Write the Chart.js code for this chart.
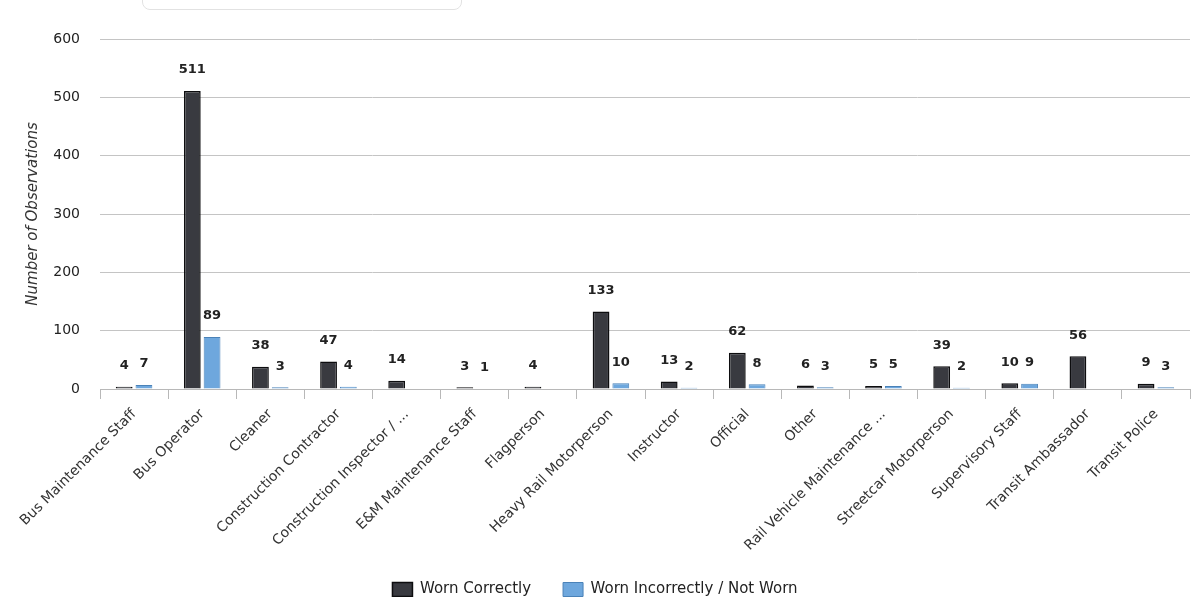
<!DOCTYPE html>
<html>
<head>
<meta charset="utf-8">
<script src="https://cdn.jsdelivr.net/npm/chart.js@4/dist/chart.umd.min.js"></script>
<style>
  html, body { margin: 0; padding: 0; background: #fff; overflow: hidden; }
  /* a little taller than the window so the legend's lower padding falls outside */
  #wrap { position: relative; width: 1202px; height: 607px; }
  #tab { position: absolute; left: 142px; top: -10px; width: 318px; height: 18px;
         border: 1px solid #e2e2e2; border-radius: 0 0 8px 8px; }
</style>
</head>
<body>
<div id="wrap">
  <div id="tab"></div>
  <canvas id="roleChart"></canvas>
</div>
<script>
const categories = [
  'Bus Maintenance Staff', 'Bus Operator', 'Cleaner', 'Construction Contractor',
  'Construction Inspector / ...', 'E&M Maintenance Staff', 'Flagperson',
  'Heavy Rail Motorperson', 'Instructor', 'Official', 'Other',
  'Rail Vehicle Maintenance ...', 'Streetcar Motorperson', 'Supervisory Staff',
  'Transit Ambassador', 'Transit Police'
];
const wornCorrectly = [4, 511, 38, 47, 14, 3, 4, 133, 13, 62, 6, 5, 39, 10, 56, 9];
const wornIncorrectly = [7, 89, 3, 4, null, 1, null, 10, 2, 8, 3, 5, 2, 9, null, 3];
const yTicks = [0, 100, 200, 300, 400, 500, 600];

const FONT = "'DejaVu Sans', sans-serif";

// draws the value above each bar
const valueLabels = {
  id: 'valueLabels',
  afterDatasetsDraw(chart) {
    const ctx = chart.ctx;
    ctx.save();
    ctx.font = 'bold 13px ' + FONT;
    ctx.fillStyle = '#222';
    ctx.textAlign = 'center';
    ctx.textBaseline = 'middle';
    chart.data.datasets.forEach((ds, i) => {
      const meta = chart.getDatasetMeta(i);
      meta.data.forEach((bar, j) => {
        const v = ds.data[j];
        if (v === null || v === undefined) return;
        ctx.fillText(String(v), bar.x, bar.y - 21);
      });
    });
    ctx.restore();
  }
};

const context = document.getElementById('roleChart').getContext('2d');
const roleChart = new Chart(context, {
  type: 'bar',
  data: {
    labels: categories,
    datasets: [
      {
        label: 'Worn Correctly',
        data: wornCorrectly,
        backgroundColor: '#393a40',
        borderColor: '#0d0d0f',
        borderWidth: 1.5,
        barPercentage: 0.85,
        categoryPercentage: 0.58
      },
      {
        label: 'Worn Incorrectly / Not Worn',
        data: wornIncorrectly,
        backgroundColor: '#6ea7dd',
        borderColor: '#4a82b8',
        borderWidth: 1,
        barPercentage: 0.85,
        categoryPercentage: 0.58
      }
    ]
  },
  options: {
    responsive: true,
    maintainAspectRatio: false,
    animation: false,
    layout: {
      padding: { top: 39, right: 12, left: 0, bottom: 0 }
    },
    scales: {
      x: {
        grid: {
          offset: true,
          drawOnChartArea: false,
          color: '#b8b8b8',
          tickLength: 10,
          tickColor: '#b8b8b8'
        },
        border: { color: '#b8b8b8' },
        ticks: {
          maxRotation: 45,
          minRotation: 45,
          autoSkip: false,
          color: '#333',
          padding: 7,
          font: { family: FONT, size: 14 }
        },
        afterFit: (scale) => { scale.height = 161; }
      },
      y: {
        min: 0,
        max: 600,
        afterBuildTicks: (scale) => {
          scale.ticks = yTicks.map((v) => ({ value: v }));
        },
        grid: {
          color: '#c4c4c4',
          drawTicks: false
        },
        border: { display: false },
        ticks: {
          color: '#222',
          padding: 20,
          font: { family: FONT, size: 14 }
        },
        title: {
          display: true,
          text: 'Number of Observations',
          color: '#333',
          padding: { top: 24, bottom: 0 },
          font: { family: FONT, size: 15, style: 'italic' }
        },
        afterFit: (scale) => { scale.width = 100; }
      }
    },
    plugins: {
      legend: {
        position: 'bottom',
        labels: {
          boxWidth: 20,
          boxHeight: 14,
          padding: 32,
          color: '#222',
          font: { family: FONT, size: 15 }
        }
      },
      tooltip: { enabled: false }
    }
  },
  plugins: [valueLabels]
});
</script>
</body>
</html>
